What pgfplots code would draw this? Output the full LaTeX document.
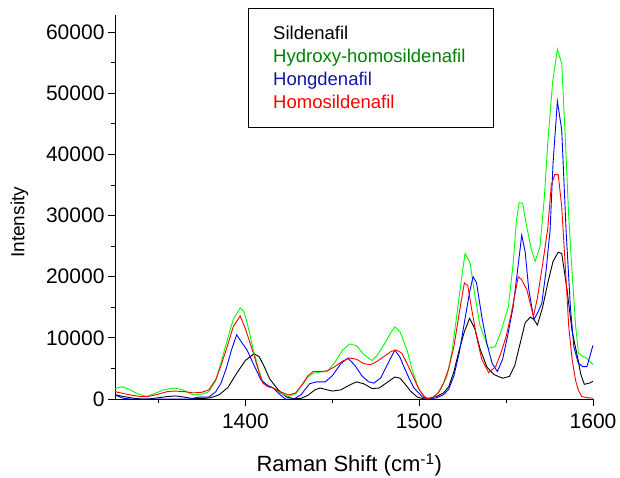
\documentclass[border=0pt]{standalone}
\usepackage{fontspec}
\setmainfont{Liberation Sans}
\usepackage{pgfplots}
\pgfplotsset{compat=1.18}
\definecolor{lgreen}{RGB}{0,255,0}
\definecolor{dgreen}{RGB}{0,128,0}
\definecolor{lblue}{RGB}{0,0,255}
\definecolor{dblue}{RGB}{20,20,170}
\definecolor{lred}{RGB}{255,0,0}
\begin{document}
\begin{tikzpicture}[x=1pt,y=1pt]
\path[use as bounding box] (0,0) rectangle (620,478);
\begin{axis}[
    at={(115pt,79pt)}, anchor=south west,
    scale only axis, width=478pt, height=384pt,
    xmin=1325, xmax=1600, ymin=0, ymax=62800,
    axis lines=left, axis line style={-, line width=0.9pt},
    xtick={1400,1500,1600}, minor xtick={1350,1450,1550},
    ytick={0,10000,...,60000}, minor ytick={5000,15000,...,55000},
    tick align=outside, major tick length=7pt, minor tick length=4pt,
    tick style={black, line width=0.9pt},
    scaled y ticks=false,
    /pgf/number format/assume math mode=true,
    /pgf/number format/1000 sep={},
    tick label style={font=\fontsize{21}{21}\selectfont},
    xticklabel style={yshift=-4pt},
    xlabel={Raman Shift (cm\textsuperscript{-1})},
    ylabel={Intensity},
    xlabel style={font=\fontsize{22}{22}\selectfont, at={(axis description cs:0.49,-0.172)}, anchor=center},
    ylabel style={font=\fontsize{19}{19}\selectfont, at={(axis description cs:-0.2,0.46)}, anchor=center},
    clip=true,
    every axis plot/.append style={line width=0.9pt},
]
% Sildenafil
\addplot[black] coordinates {
(1325,700) (1330,400) (1335,150) (1340,0) (1344,0) (1350,200) (1355,400) (1360,500)
(1365,300) (1370,50) (1375,50) (1380,200) (1385,700) (1390,1900) (1395,4200) (1400,6300)
(1405,7400) (1408,6900) (1411,5200) (1414,3300) (1418,1800) (1421,900) (1424,300) (1428,50)
(1432,100) (1436,600) (1440,1500) (1443,1800) (1447,1500) (1450,1300) (1455,1500) (1460,2300)
(1464,2800) (1468,2500) (1473,1700) (1477,1800) (1481,2600) (1486,3600) (1489,3400) (1492,2400)
(1495,1300) (1499,300) (1503,0) (1506,150) (1510,400) (1514,1000) (1517,2000) (1520,4500)
(1523,8000) (1526,11000) (1529,13200) (1532,11500) (1535,8200) (1539,5200) (1543,4000) (1548,3400)
(1552,3700) (1555,5500) (1558,9000) (1561,12500) (1564,13400) (1566,13000) (1568,12100) (1571,15000)
(1574,19000) (1577,22500) (1580,24000) (1582,23800) (1585,18000) (1588,11000) (1591,7000) (1593,4000)
(1595,2400) (1598,2600) (1600,2900)
};
% Hydroxy-homosildenafil
\addplot[lgreen] coordinates {
(1325,1700) (1329,2000) (1333,1600) (1337,1000) (1343,400) (1348,900) (1353,1500) (1359,1800)
(1364,1500) (1370,650) (1375,800) (1379,1200) (1383,3000) (1386,6000) (1389.6,9650) (1393,13000)
(1397,14900) (1399,14400) (1401,12500) (1404.6,8000) (1408,4500) (1410,2800) (1413,2100) (1416,1800)
(1420,1000) (1425,400) (1429,900) (1433,2400) (1436,3600) (1439,4200) (1443,4400) (1447,4500)
(1451,5800) (1456,8000) (1460,9000) (1464,8700) (1468,7300) (1472.8,6300) (1476,7200) (1480,9000)
(1484,11000) (1486.2,11800) (1489,11000) (1493,8000) (1496,4800) (1499,2200) (1502.5,400) (1506,0)
(1509,400) (1512,1400) (1516,3650) (1519,8000) (1522,14500) (1524.5,20000) (1526.4,23800) (1529.3,22200)
(1532,17000) (1535,12000) (1539.8,8300) (1543.7,8550) (1547,11000) (1551.3,15100) (1554,22000) (1556,29300)
(1557.5,32100) (1559.5,32000) (1562,28000) (1564.5,24500) (1566.7,22500) (1569.5,24900) (1572,33000) (1574,42000)
(1576.8,51900) (1579.5,57200) (1582,54900) (1584,43000) (1586,30000) (1587.8,21400) (1590,12000) (1591.6,7500)
(1594,7000) (1596.4,6700) (1600,5600)
};
% Hongdenafil
\addplot[lblue] coordinates {
(1325,650) (1330,100) (1334,0) (1340,0) (1350,0) (1360,0) (1368,0) (1373,300)
(1379,300) (1383,1200) (1386,2600) (1389,5000) (1392,8000) (1395,10500) (1398,9200) (1401,8000)
(1405,5500) (1409,3100) (1413,2200) (1416,1800) (1420,700) (1423,0) (1428,0) (1432,700)
(1437,2500) (1441,2800) (1446,2800) (1450,3800) (1455,5800) (1459,6700) (1463,5500) (1467,3800)
(1471,2800) (1474,2600) (1478,3500) (1482,5800) (1486,8000) (1489,6800) (1491,5400) (1494,3500)
(1497,1800) (1502,300) (1506,0) (1510,200) (1514,700) (1517,1600) (1520,3800) (1523,7500)
(1526,12500) (1529,17500) (1531,20000) (1533,19000) (1536,13500) (1539,9000) (1542,5800) (1545,4500)
(1548,6500) (1551,10500) (1554,15000) (1557,22000) (1559,26800) (1561,24000) (1563,18000) (1566,13000)
(1568,14000) (1570.5,15600) (1573,21000) (1575.3,27600) (1577,38500) (1579.5,48700) (1582,44000) (1584.5,27600)
(1587,15000) (1589,8500) (1591.5,5900) (1594,5300) (1596.5,5300) (1600,8800)
};
% Homosildenafil
\addplot[lred] coordinates {
(1325,1200) (1330,900) (1335,600) (1340,400) (1344,400) (1350,800) (1355,1200) (1359,1300)
(1365,1200) (1370,1000) (1375,1100) (1379,1500) (1383,3200) (1386,5500) (1389.6,8600) (1393,11800)
(1397,13600) (1400,11500) (1404.6,7500) (1408,4200) (1410,2600) (1413,2000) (1416,1800) (1420,1200)
(1425,650) (1429,1000) (1433,2500) (1436,3800) (1439,4500) (1443,4500) (1447,4600) (1451,5200)
(1456,6200) (1460,6700) (1464,6500) (1468,5800) (1472,5600) (1476,6200) (1480,7000) (1484,7800)
(1487,8000) (1490,7500) (1493,5800) (1496,4000) (1500,1500) (1503,400) (1505,0) (1508,300)
(1511,1000) (1514,2600) (1517,5000) (1520,8600) (1523,14000) (1526,19000) (1528,18500) (1530,15000)
(1533,10200) (1536,6500) (1540,4300) (1544,5300) (1547,7500) (1550,10200) (1553,14000) (1557,20000)
(1559,19500) (1562,17800) (1565.7,13500) (1568,16500) (1571,22000) (1574,28000) (1576,35000) (1578,36700)
(1580,36700) (1582,31400) (1584,22000) (1586,12000) (1588,6400) (1590,3000) (1591.5,1500) (1593.5,400)
(1597,200) (1600,150)
};
\end{axis}
% legend box
\draw[line width=0.9pt] (248,351) rectangle (493,470);
\begin{scope}[every node/.style={anchor=base west, inner sep=0pt, font=\fontsize{18.5}{18.5}\selectfont}]
\node[text=black]  at (273,438.5) {Sildenafil};
\node[text=dgreen] at (273,415) {Hydroxy-homosildenafil};
\node[text=dblue]  at (273,392) {Hongdenafil};
\node[text=lred]   at (273,369.5) {Homosildenafil};
\end{scope}
\end{tikzpicture}
\end{document}
